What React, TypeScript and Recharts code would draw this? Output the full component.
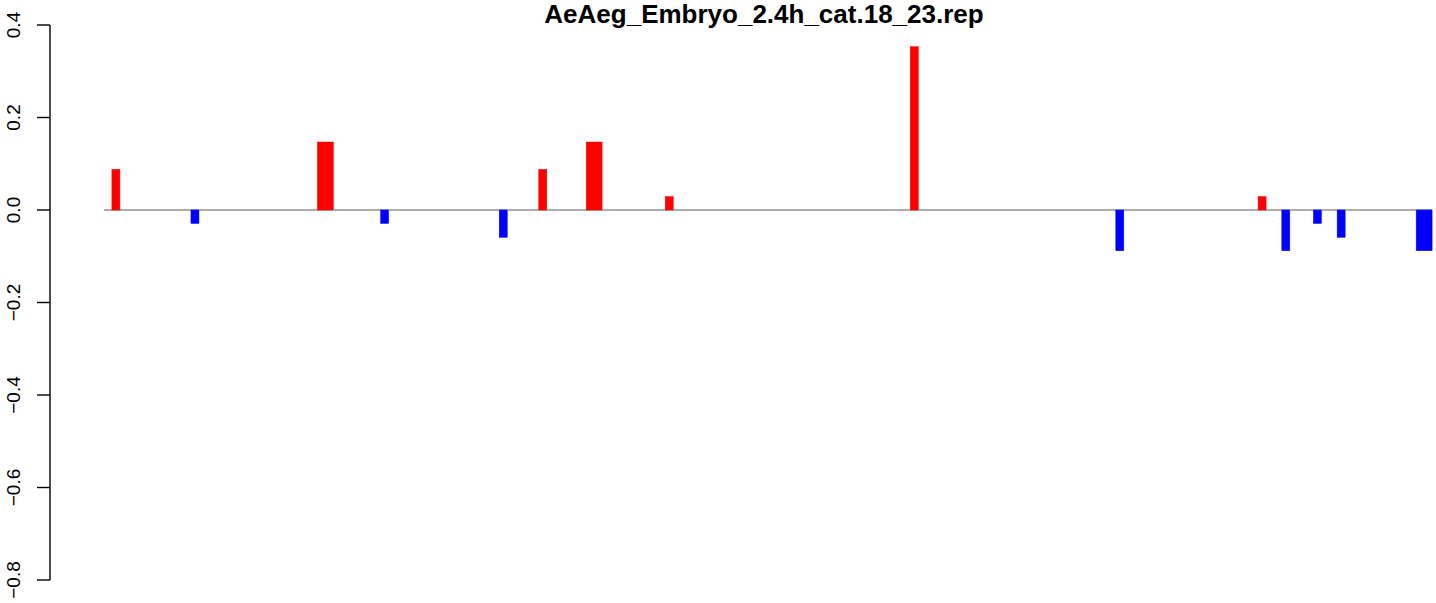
import { BarChart, Bar, XAxis, YAxis } from "recharts";

const TITLE = "AeAeg_Embryo_2.4h_cat.18_23.rep";

// 168 slots along the x axis, most of them empty (zero height)
const N_BARS = 168;
const BAR_INDEX = [1, 11, 27, 28, 35, 50, 55, 61, 62, 71, 102, 128, 146, 149, 153, 156, 166, 167];
const BAR_VALUE = [
  0.088, -0.029, 0.147, 0.147, -0.029, -0.059, 0.088, 0.147, 0.147, 0.029,
  0.353, -0.088, 0.029, -0.088, -0.029, -0.059, -0.088, -0.088,
];
const Y_TICKS = [-0.8, -0.6, -0.4, -0.2, 0, 0.2, 0.4];
const Y_LABELS = ["\u22120.8", "\u22120.6", "\u22120.4", "\u22120.2", "0.0", "0.2", "0.4"];

const FONT = "'Liberation Sans', Arial, Helvetica, sans-serif";
const POS = "#ff0000";
const NEG = "#0000ff";
const BASE = "#808080";

const data = Array.from({ length: N_BARS }, (_, i) => {
  const k = BAR_INDEX.indexOf(i);
  return { idx: i, value: k >= 0 ? BAR_VALUE[k] : 0 };
});

function YTick(props: any) {
  const { y, payload } = props;
  const i = Y_TICKS.indexOf(payload.value);
  const label = i >= 0 ? Y_LABELS[i] : String(payload.value);
  const bx = 19.5;
  return (
    <text
      x={bx}
      y={y}
      transform={`rotate(-90, ${bx}, ${y})`}
      textAnchor="middle"
      fontSize={19}
      fontFamily={FONT}
      fill="#000"
    >
      {label}
    </text>
  );
}

// every slot draws its piece of the grey zero line, then its bar (if any)
function SlotBar(props: any) {
  const { x, y, width, height, value } = props;
  const v = Array.isArray(value) ? value[1] - value[0] : Number(value ?? 0);
  const top = Math.min(y, y + height);
  const bottom = Math.max(y, y + height);
  const zeroY = v >= 0 ? bottom : top;
  const color = v >= 0 ? POS : NEG;
  return (
    <g>
      <line x1={x} x2={x + width} y1={zeroY} y2={zeroY} stroke={BASE} strokeWidth={1.3} />
      {v !== 0 && (
        <rect
          x={x}
          y={top}
          width={width}
          height={bottom - top}
          fill={color}
          stroke={color}
          strokeWidth={0.5}
        />
      )}
    </g>
  );
}

export default function App() {
  return (
    <div
      style={{
        position: "absolute",
        left: 0,
        top: 0,
        width: 1436,
        height: 603,
        overflow: "hidden",
        background: "#fff",
      }}
    >
      <div
        style={{
          position: "absolute",
          left: 264,
          width: 1000,
          top: -1,
          textAlign: "center",
          fontFamily: FONT,
          fontWeight: "bold",
          fontSize: 26,
          lineHeight: "normal",
          color: "#000",
          zIndex: 1,
        }}
      >
        {TITLE}
      </div>
      <BarChart
        width={1436}
        height={603}
        data={data}
        margin={{ top: 25, right: 4, bottom: 23, left: 0 }}
        barCategoryGap={0}
        barGap={0}
      >
        <XAxis dataKey="idx" type="category" hide padding={{ left: 54, right: 0 }} />
        <YAxis
          width={50}
          domain={[-0.8, 0.4]}
          ticks={Y_TICKS}
          allowDataOverflow
          tickSize={13}
          tickLine={{ stroke: "#000", strokeWidth: 1.4 }}
          axisLine={{ stroke: "#000", strokeWidth: 1.4 }}
          tick={<YTick />}
          interval={0}
        />
        <Bar dataKey="value" isAnimationActive={false} shape={<SlotBar />} />
      </BarChart>
    </div>
  );
}
